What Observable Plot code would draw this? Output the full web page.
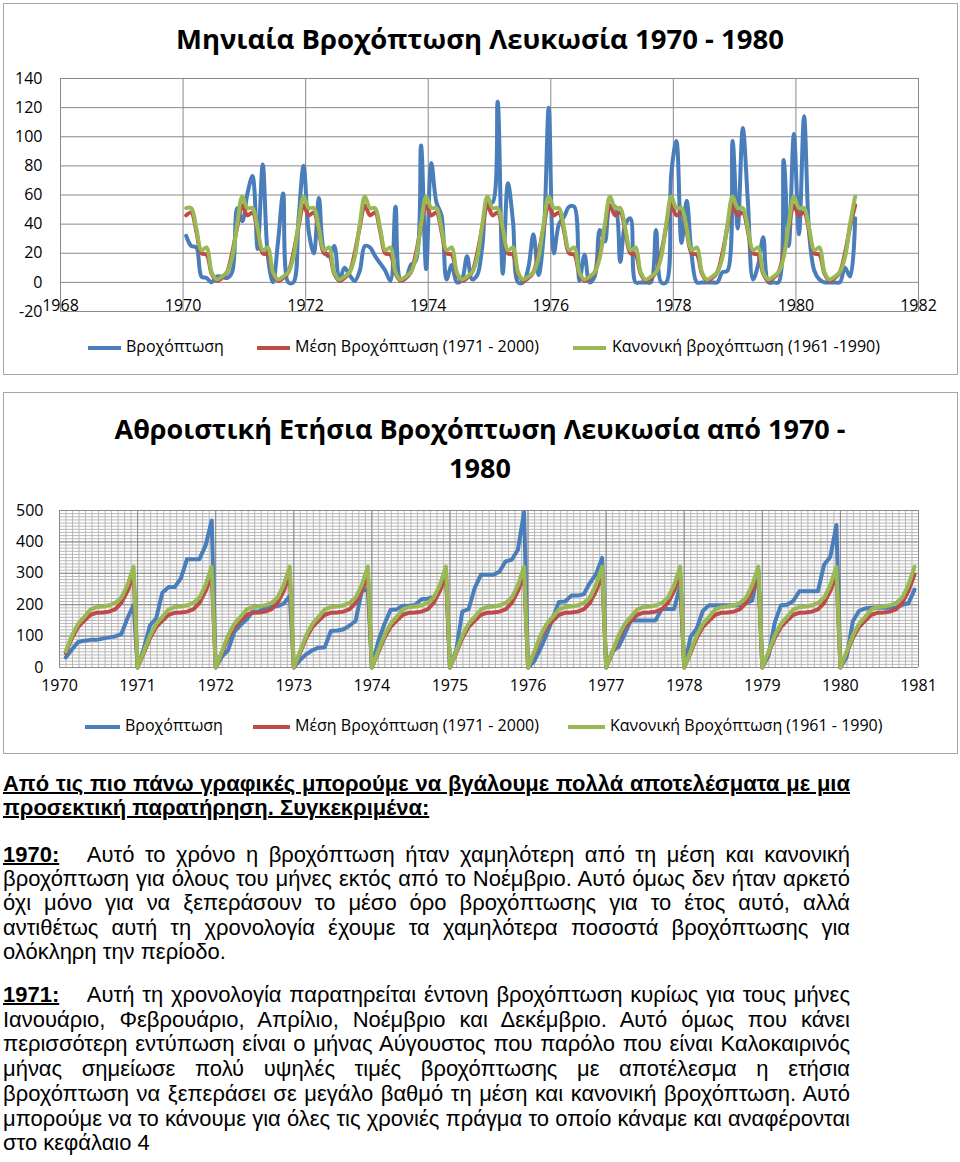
<!DOCTYPE html>
<html>
<head>
<meta charset="utf-8">
<script src="https://cdn.jsdelivr.net/npm/d3@7"></script>
<script src="https://cdn.jsdelivr.net/npm/@observablehq/plot@0.6"></script>
<style>
  html, body { margin: 0; padding: 0; background: #fff; }
  body { width: 960px; height: 1162px; position: relative; overflow: hidden; font-family: "Open Sans", sans-serif; color: #000; }
  .box { position: absolute; border: 1px solid #a6a6a6; box-sizing: border-box; }
  .title { position: absolute; left: 0; width: 960px; text-align: center; font-weight: 700; font-size: 27.5px; line-height: 27.5px; white-space: nowrap; }
  .title.b { font-size: 27px; line-height: 27px; }
  .plot { position: absolute; left: 0; }
  .leg { position: absolute; font-size: 16px; line-height: 16px; white-space: nowrap; }
  .sw { position: absolute; height: 4px; }
  .txt { position: absolute; left: 3px; font-family: "Liberation Sans", Arial, sans-serif; font-size: 22px; transform-origin: 0 0; }
  .txt .ln { text-align: justify; text-align-last: justify; white-space: normal; }
  .txt .ln.last { text-align-last: left; }
  .txt .lab { display: inline-block; font-weight: 700; text-decoration: underline; text-decoration-thickness: 2px; text-underline-offset: 1px; }
  .txt .ul { font-weight: 700; text-decoration: underline; text-decoration-thickness: 2px; text-underline-offset: 1px; }
</style>
</head>
<body>
<script>
// ---------------- DATA ----------------
const years = [1970, 1971, 1972, 1973, 1974, 1975, 1976, 1977, 1978, 1979, 1980];
// Monthly rainfall, Nicosia (mm), Jan..Dec
const rain1970 = [32, 25, 24, 4, 3, 0, 4, 4, 3, 7, 51, 42];
const rain1971 = [61, 73, 23, 81, 18, 0, 28, 61, 0, 0, 43, 80];
const rain1972 = [35, 20, 58, 22, 18, 25, 1, 10, 5, 1, 8, 25];
const rain1973 = [24, 18, 13, 8, 1, 52, 2, 3, 12, 15, 94, 9];
const rain1974 = [82, 55, 46, 2, 12, 0, 2, 18, 2, 5, 25, 55];
const rain1975 = [55, 124, 6, 68, 42, 0, 0, 10, 33, 5, 32, 120];
const rain1976 = [20, 40, 45, 52, 52, 1, 19, 0, 4, 36, 28, 52];
const rain1977 = [52, 14, 40, 44, 0, 0, 0, 0, 36, 0, 0, 75];
const rain1978 = [97, 27, 56, 18, 0, 0, 0, 0, 0, 7, 8, 97];
const rain1979 = [37, 106, 55, 2, 12, 31, 0, 0, 0, 84, 25, 102];
const rain1980 = [33, 114, 33, 8, 2, 0, 0, 0, 0, 10, 4, 44];
const rainByYear = [rain1970, rain1971, rain1972, rain1973, rain1974, rain1975, rain1976, rain1977, rain1978, rain1979, rain1980];
// Monthly mean 1971-2000 and normal 1961-1990, Jan..Dec
const meanMonthly   = [46, 48, 35, 20, 19, 6, 1, 3, 7, 20, 38, 53];
const normalMonthly = [51, 51, 37, 22, 24, 7, 2, 4, 7, 17, 40, 59];

const topXTicks = [1968, 1970, 1972, 1974, 1976, 1978, 1980, 1982];
const topYTicks = [-20, 0, 20, 40, 60, 80, 100, 120, 140];
const botXTicks = [1970, 1971, 1972, 1973, 1974, 1975, 1976, 1977, 1978, 1979, 1980, 1981];
const botYTicks = [0, 100, 200, 300, 400, 500];

const topTitle = "Μηνιαία Βροχόπτωση Λευκωσία 1970 - 1980";
const botTitle1 = "Αθροιστική Ετήσια Βροχόπτωση Λευκωσία από 1970 -";
const botTitle2 = "1980";
const topLegend = ["Βροχόπτωση", "Μέση Βροχόπτωση (1971 - 2000)", "Κανονική βροχόπτωση (1961 -1990)"];
const botLegend = ["Βροχόπτωση", "Μέση Βροχόπτωση (1971 - 2000)", "Κανονική Βροχόπτωση (1961 - 1990)"];

const introLines = [
  "Από τις πιο πάνω γραφικές μπορούμε να βγάλουμε πολλά αποτελέσματα με μια",
  "προσεκτική παρατήρηση. Συγκεκριμένα:"
];
const label1970 = "1970:";
const lines1970 = [
  "Αυτό το χρόνο η βροχόπτωση ήταν χαμηλότερη από τη  μέση και κανονική",
  "βροχόπτωση για όλους του μήνες εκτός από το Νοέμβριο. Αυτό όμως δεν ήταν αρκετό",
  "όχι μόνο για να ξεπεράσουν  το μέσο όρο  βροχόπτωσης για το έτος αυτό, αλλά",
  "αντιθέτως αυτή τη χρονολογία έχουμε τα χαμηλότερα ποσοστά βροχόπτωσης για",
  "ολόκληρη την περίοδο."
];
const label1971 = "1971:";
const lines1971 = [
  "Αυτή τη χρονολογία παρατηρείται έντονη βροχόπτωση κυρίως για τους μήνες",
  "Ιανουάριο, Φεβρουάριο, Απρίλιο, Νοέμβριο και Δεκέμβριο.  Αυτό όμως που κάνει",
  "περισσότερη εντύπωση είναι ο μήνας Αύγουστος που παρόλο που είναι Καλοκαιρινός",
  "μήνας σημείωσε πολύ υψηλές τιμές βροχόπτωσης με αποτέλεσμα η ετήσια",
  "βροχόπτωση να ξεπεράσει σε μεγάλο βαθμό τη μέση και κανονική βροχόπτωση.  Αυτό",
  "μπορούμε να το κάνουμε για όλες τις χρονιές πράγμα το οποίο κάναμε και αναφέρονται",
  "στο κεφάλαιο 4"
];

(function () {
// ---------------- STYLE ----------------
const C_BLUE = "#4a7ebb", C_RED = "#be4b48", C_GREEN = "#98b954";
const GRID = "#8a8a8a", GRID_MINOR = "#b8b8b8";
const FONT = "'Open Sans', sans-serif";

function el(tag, cls, css, text) {
  const e = document.createElement(tag);
  if (cls) e.className = cls;
  if (css) Object.assign(e.style, css);
  if (text != null) e.textContent = text;
  document.body.appendChild(e);
  return e;
}

// frames
el("div", "box", {left: "3px", top: "3px", width: "955px", height: "372px"});
el("div", "box", {left: "3px", top: "392px", width: "955px", height: "362px"});

// titles
el("div", "title", {top: "25px"}, topTitle);
el("div", "title b", {top: "415px"}, botTitle1);
el("div", "title b", {top: "454px"}, botTitle2);

// ---------------- TOP CHART (monthly) ----------------
const monthly = [];
years.forEach((yr, i) => {
  rainByYear[i].forEach((v, m) => {
    monthly.push({x: yr + (m + 0.6) / 12, rain: v, mean: meanMonthly[m], normal: normalMonthly[m]});
  });
});

const lineOpts = {curve: "catmull-rom", strokeWidth: 4, strokeLinejoin: "round", strokeLinecap: "round"};
const topChart = Plot.plot({
  width: 960, height: 262,
  marginLeft: 60, marginRight: 42, marginTop: 18, marginBottom: 11,
  style: {fontFamily: FONT, fontSize: "16px", color: "#000", background: "transparent", overflow: "visible"},
  x: {domain: [1968, 1982]},
  y: {domain: [-20, 140]},
  marks: [
    Plot.gridX(topXTicks, {stroke: GRID, strokeOpacity: 1}),
    Plot.gridY(topYTicks, {stroke: GRID, strokeOpacity: 1}),
    Plot.axisY(topYTicks, {tickSize: 0, tickPadding: 18, fontSize: 16, label: null, tickFormat: d => String(d)}),
    Plot.axisX(topXTicks, {tickSize: 0, tickPadding: -12, fontSize: 16, label: null, tickFormat: d => String(d)}),
    Plot.line(monthly, {x: "x", y: "rain", stroke: C_BLUE, ...lineOpts}),
    Plot.line(monthly, {x: "x", y: "mean", stroke: C_RED, ...lineOpts}),
    Plot.line(monthly, {x: "x", y: "normal", stroke: C_GREEN, ...lineOpts})
  ]
});
topChart.classList.add("plot");
topChart.style.position = "absolute";
topChart.style.top = "60px";
document.body.appendChild(topChart);

// ---------------- BOTTOM CHART (cumulative) ----------------
const cumRows = [];
years.forEach((yr, i) => {
  if (i > 0) cumRows.push({x: yr, rain: 0, mean: 0, normal: 0});
  const cr = d3.cumsum(rainByYear[i]);
  const cm = d3.cumsum(meanMonthly);
  const cn = d3.cumsum(normalMonthly);
  for (let m = 0; m < 12; m++) {
    cumRows.push({x: yr + 0.08 + m * 0.079, rain: cr[m], mean: cm[m], normal: cn[m]});
  }
});
const monthGrid = d3.range(0, 133).map(k => 1970 + k / 12);
const tenGrid = d3.range(0, 501, 10);
const cumLine = {strokeWidth: 4, strokeLinejoin: "round", strokeLinecap: "round"};
const botChart = Plot.plot({
  width: 960, height: 207,
  marginLeft: 59, marginRight: 42, marginTop: 20, marginBottom: 30,
  style: {fontFamily: FONT, fontSize: "16px", color: "#000", background: "transparent", overflow: "visible"},
  x: {domain: [1970, 1981]},
  y: {domain: [0, 500]},
  marks: [
    Plot.gridX(monthGrid, {stroke: GRID_MINOR, strokeOpacity: 1}),
    Plot.gridY(tenGrid, {stroke: GRID_MINOR, strokeOpacity: 1}),
    Plot.gridX(botXTicks, {stroke: GRID, strokeOpacity: 1}),
    Plot.gridY(botYTicks, {stroke: GRID, strokeOpacity: 1}),
    Plot.axisY(botYTicks, {tickSize: 0, tickPadding: 16, fontSize: 16, label: null, tickFormat: d => String(d)}),
    Plot.axisX(botXTicks, {tickSize: 0, tickPadding: 12, fontSize: 16, label: null, tickFormat: d => String(d)}),
    Plot.line(cumRows, {x: "x", y: "rain", stroke: C_BLUE, ...cumLine}),
    Plot.line(cumRows, {x: "x", y: "mean", stroke: C_RED, ...cumLine}),
    Plot.line(cumRows, {x: "x", y: "normal", stroke: C_GREEN, ...cumLine})
  ]
});
botChart.classList.add("plot");
botChart.style.position = "absolute";
botChart.style.top = "490px";
document.body.appendChild(botChart);

// ---------------- LEGENDS ----------------
function legend(labels, cy, swX, swW, txX) {
  const cols = [C_BLUE, C_RED, C_GREEN];
  labels.forEach((lab, i) => {
    el("div", "sw", {left: swX[i] + "px", width: swW[i] + "px", top: (cy - 2) + "px", background: cols[i]});
    el("div", "leg", {left: txX[i] + "px", top: (cy - 10) + "px"}, lab);
  });
}
legend(topLegend, 348, [88, 257, 573], [33, 33, 33], [126, 295, 612]);
legend(botLegend, 727, [85, 253, 568], [35, 37, 37], [125, 295, 610]);

// ---------------- TEXT ----------------
const FS = 22;
const ctx = document.createElement("canvas").getContext("2d");
function tw(s, bold) { ctx.font = (bold ? "bold " : "") + FS + "px 'Liberation Sans', Arial, sans-serif"; return ctx.measureText(s).width; }
const TARGET = 847, LABSCREEN = 84;
const plainLines = [...lines1970.slice(1, -1), ...lines1971.slice(1, -1)];
let W = Math.max(tw(introLines[0], true), ...plainLines.map(s => tw(s, false)));
let LABW = LABSCREEN * W / TARGET;
W = Math.max(W, LABW + tw(lines1970[0], false), LABW + tw(lines1971[0], false));
LABW = LABSCREEN * W / TARGET;
W = Math.ceil(W) + 1;
const S = TARGET / W;

function block(topPx, lh, lines, label) {
  const b = el("div", "txt", {top: topPx + "px", width: W + "px", lineHeight: lh + "px", transform: `scaleX(${S})`});
  lines.forEach((s, i) => {
    const d = document.createElement("div");
    d.className = "ln" + (i === lines.length - 1 ? " last" : "");
    if (label && i === 0) {
      const l = document.createElement("span");
      l.className = "lab";
      l.style.width = LABW + "px";
      l.textContent = label;
      d.appendChild(l);
      d.appendChild(document.createTextNode(s));
    } else if (!label) {
      const u = document.createElement("span");
      u.className = "ul";
      u.textContent = s;
      d.appendChild(u);
    } else {
      d.textContent = s;
    }
    b.appendChild(d);
  });
  return b;
}
block(772, 24, introLines, null);
block(843, 24.2, lines1970, label1970);
block(983, 24.7, lines1971, label1971);
})();
</script>
</body>
</html>
